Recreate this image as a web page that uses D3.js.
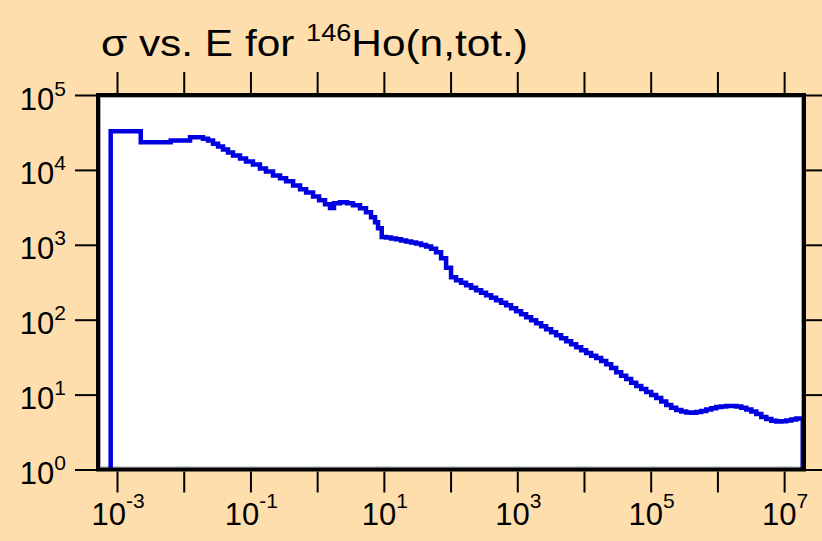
<!DOCTYPE html>
<html>
<head>
<meta charset="utf-8">
<script src="https://cdn.jsdelivr.net/npm/d3@7"></script>
<style>
  html, body { margin: 0; padding: 0; background: #FFDEAD; }
  svg { display: block; }
  text { font-family: "Liberation Sans", Arial, Helvetica, sans-serif; fill: #000; }
</style>
</head>
<body>
<svg id="chart" width="822" height="541"></svg>
<script>
// ---- data ----
const energy = [8.04e-4, 2.27e-3, 6.38e-3, 0.01243, 0.01948, 0.0231, 0.0275, 0.0327, 0.0388, 0.0461,
  0.0548, 0.0698, 0.0859, 0.109, 0.139, 0.171, 0.218, 0.278, 0.342, 0.436,
  0.555, 0.683, 0.869, 1.068, 1.313, 1.56, 1.79, 2.20, 2.81, 3.45,
  4.39, 5.40, 6.43, 7.38, 8.18, 9.29,
  10.79, 12.82, 15.24, 18.11, 21.53, 25.59, 30.41, 36.14, 42.95, 51.05, 60.67, 72.1, 85.7,
  101.7, 120.9, 143.7, 170.8, 203.0, 241.3, 286.8, 340.8, 405.1, 481.4,
  572.2, 680.1, 808.3, 960.5, 1141.6, 1356.8, 1612.6, 1916.6, 2277.9, 2707.3,
  3217.6, 3824.1, 4545.0, 5401.8, 6420.0, 7630.2, 9068.6, 10778, 12810, 15225,
  18095, 21506, 25560, 30379, 36106, 42913, 51003, 60618, 72046, 85628,
  1.0174e5, 1.2092e5, 1.4372e5, 1.7081e5, 2.0301e5, 2.4128e5, 2.8677e5, 3.4083e5, 4.0508e5, 4.8145e5,
  5.7221e5, 6.8008e5, 8.0829e5, 9.6066e5, 1.1418e6, 1.3570e6, 1.6129e6, 1.9170e6, 2.2784e6, 2.7079e6,
  3.2184e6, 3.8251e6, 4.5462e6, 5.4033e6, 6.4219e6, 7.6326e6, 9.0716e6, 1.0782e7, 1.2814e7, 1.5230e7,
  1.8101e7, 1.90e7];
const sigma = [32900, 23480, 24740, 27370, 26060, 24740, 22340, 20560, 18760, 17110,
  15600, 14230, 12980, 11840, 10470, 9550, 8450, 7710, 7030, 6210,
  5500, 5010, 4430, 3920, 3470, 3100, 3575, 3690, 3575, 3365,
  3070, 2710, 2330, 1995, 1660, 1270,
  1247, 1213, 1184, 1141, 1106, 1073, 1040, 991, 946, 885, 794, 661, 493,
  368.6, 337.3, 311.5, 288.4, 267.1, 247.4, 229.1, 212.2, 196.5, 182.0,
  168.6, 156.1, 142.3, 129.8, 118.4, 108.0, 98.5, 89.8, 81.9, 74.7,
  68.1, 62.1, 56.7, 51.7, 47.1, 43.0, 39.2, 35.8, 33.1, 30.7,
  28.0, 25.5, 22.6, 19.95, 17.9, 16.1, 14.45, 12.98, 11.84, 10.8,
  9.85, 8.98, 8.07, 7.24, 6.65, 6.21, 5.93, 5.75, 5.72, 5.84,
  6.03, 6.31, 6.57, 6.81, 6.94, 7.03, 7.03, 6.92, 6.65, 6.31,
  5.93, 5.50, 5.04, 4.71, 4.46, 4.37, 4.41, 4.50, 4.64, 4.79,
  4.79, 4.79];
const xTickExponents = [-3, -2, -1, 0, 1, 2, 3, 4, 5, 6, 7];
const xLabelExponents = ["-3", "-1", "1", "3", "5", "7"];
const yTickExponents = [0, 1, 2, 3, 4, 5];
const yLabelExponents = ["0", "1", "2", "3", "4", "5"];
const titleMain = "\u03C3 vs. E for ";
const titleSup = "146";
const titleRest = "Ho(n,tot.)";
const xDomain = [Math.pow(10, -3.285), Math.pow(10, 7.298)];
const yDomain = [1, 1e5];

// ---- layout ----
const svg = d3.select("#chart");
const L = 98, R = 804, T = 95, B = 469.5;
const x = d3.scaleLog().domain(xDomain).range([L, R]);
const y = d3.scaleLog().domain(yDomain).range([B, T]);

svg.append("rect").attr("width", 822).attr("height", 541).attr("fill", "#FFDEAD");

// plot area
svg.append("rect").attr("x", L).attr("y", T).attr("width", R - L).attr("height", B - T)
  .attr("fill", "#fff");
svg.append("rect").attr("x", L + 2.5).attr("y", T + 2.5).attr("width", R - L - 5).attr("height", B - T - 5)
  .attr("fill", "none").attr("stroke", "#aaa").attr("stroke-width", 1);

// data line
const pts = [[energy[0], yDomain[0]]]
  .concat(energy.map((e, i) => [e, sigma[i]]))
  .concat([[energy[energy.length - 1], yDomain[0]]]);
const line = d3.line().x(d => x(d[0])).y(d => y(d[1])).curve(d3.curveStepAfter);
svg.append("path").attr("d", line(pts)).attr("fill", "none")
  .attr("stroke", "#0000E0").attr("stroke-width", 4.5).attr("stroke-linejoin", "miter");

// frame
svg.append("rect").attr("x", L).attr("y", T).attr("width", R - L).attr("height", B - T)
  .attr("fill", "none").attr("stroke", "#000").attr("stroke-width", 4);

// axes (ticks on all four sides, outward)
const xVals = xTickExponents.map(e => Math.pow(10, e));
const yVals = yTickExponents.map(e => Math.pow(10, e));
function styleAxis(g) {
  g.select(".domain").remove();
  g.selectAll(".tick line").attr("stroke", "#000").attr("stroke-width", 2);
  g.selectAll(".tick text").remove();
}
svg.append("g").attr("transform", `translate(0,${B + 2})`)
  .call(d3.axisBottom(x).tickValues(xVals).tickSize(21).tickFormat(""))
  .call(styleAxis);
svg.append("g").attr("transform", `translate(0,${T - 2})`)
  .call(d3.axisTop(x).tickValues(xVals).tickSize(21).tickFormat(""))
  .call(styleAxis);
svg.append("g").attr("transform", `translate(${L - 2},0)`)
  .call(d3.axisLeft(y).tickValues(yVals).tickSize(21).tickFormat(""))
  .call(styleAxis);
svg.append("g").attr("transform", `translate(${R + 2},0)`)
  .call(d3.axisRight(y).tickValues(yVals).tickSize(21).tickFormat(""))
  .call(styleAxis);

// y labels
yLabelExponents.forEach(ex => {
  const t = svg.append("text")
    .attr("transform", `translate(66,${y(Math.pow(10, +ex)) + 14.5})`)
    .attr("text-anchor", "end").style("font-size", "31px");
  t.append("tspan").text("10");
  t.append("tspan").attr("dy", -14).style("font-size", "21px").text(ex);
});

// x labels
xLabelExponents.forEach(ex => {
  const t = svg.append("text")
    .attr("transform", `translate(${x(Math.pow(10, +ex)) + 1},525)`)
    .attr("text-anchor", "middle").style("font-size", "31px");
  t.append("tspan").text("10");
  t.append("tspan").attr("dy", -17).style("font-size", "21px").text(ex);
});

// title
const title = svg.append("text").attr("x", 0).attr("y", 0).style("font-size", "36px");
title.append("tspan").text(titleMain);
title.append("tspan").attr("dy", -15).style("font-size", "23px").text(titleSup);
title.append("tspan").attr("dy", 15).text(titleRest);
const bb = title.node().getBBox();
const sx = 427 / bb.width;
title.attr("transform", `translate(${101 - bb.x * sx},56) scale(${sx},1)`);
</script>
</body>
</html>
